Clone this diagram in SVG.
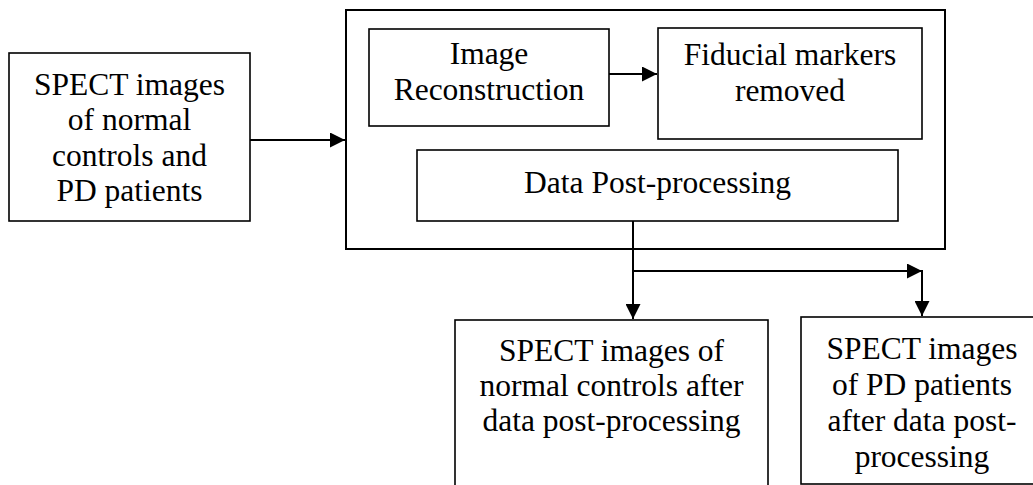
<svg xmlns="http://www.w3.org/2000/svg" width="1033" height="485" viewBox="0 0 1033 485">
<defs>
<style>
.box{fill:#fff;stroke:#000;stroke-width:1.6}
.outer{fill:#fff;stroke:#000;stroke-width:2}
text{font-family:'Liberation Serif','Times New Roman','DejaVu Serif',serif;font-size:31.5px;fill:#000;text-anchor:middle}
.ln{fill:none;stroke:#000;stroke-width:2}
</style>
<marker id="ah" viewBox="0 0 10 10" refX="10" refY="5" markerUnits="userSpaceOnUse" markerWidth="16" markerHeight="15" orient="auto">
<path d="M0,0 L10,5 L0,10 Z" fill="#000"/>
</marker>
</defs>
<rect width="1033" height="485" fill="#fff"/>
<g font-family="Liberation Serif, serif">
<g id="input">
<rect class="box" x="9" y="53" width="241" height="168"/>
<text x="129.5" y="95">SPECT images</text>
<text x="129.5" y="130">of normal</text>
<text x="129.5" y="166">controls and</text>
<text x="129.5" y="201">PD patients</text>
</g>
<g id="processing">
<rect class="outer" x="346" y="10" width="599" height="239"/>
</g>
<g id="reconstruction">
<rect class="box" x="369" y="29" width="240" height="97"/>
<text x="489" y="64">Image</text>
<text x="489" y="100">Reconstruction</text>
</g>
<g id="fiducial">
<rect class="box" x="658" y="28" width="264" height="111"/>
<text x="790" y="65">Fiducial markers</text>
<text x="790" y="101">removed</text>
</g>
<g id="postprocessing">
<rect class="box" x="417" y="150" width="481" height="71"/>
<text x="657.5" y="193">Data Post-processing</text>
</g>
<g id="normal-out">
<rect class="box" x="455" y="320" width="313" height="180"/>
<text x="611.5" y="361">SPECT images of</text>
<text x="611.5" y="396">normal controls after</text>
<text x="611.5" y="431">data post-processing</text>
</g>
<g id="pd-out">
<rect class="box" x="801" y="317" width="245" height="167"/>
<text x="922" y="359">SPECT images</text>
<text x="922" y="395">of PD patients</text>
<text x="922" y="431">after data post-</text>
<text x="922" y="467">processing</text>
</g>
</g>
<g id="connectors">
<line class="ln" x1="250" y1="140" x2="345" y2="140" marker-end="url(#ah)"/>
<line class="ln" x1="609" y1="74" x2="657" y2="74" marker-end="url(#ah)"/>
<line class="ln" x1="633" y1="221" x2="633" y2="319" marker-end="url(#ah)"/>
<line class="ln" x1="633" y1="271" x2="922" y2="271" marker-end="url(#ah)"/>
<line class="ln" x1="922" y1="270" x2="922" y2="316" marker-end="url(#ah)"/>
</g>
</svg>
